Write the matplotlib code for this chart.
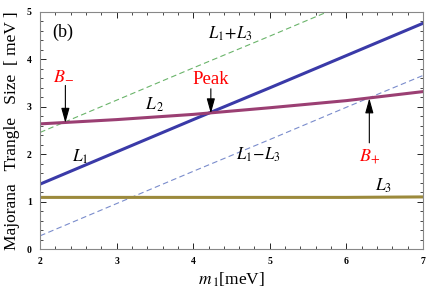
import matplotlib
matplotlib.use("Agg")
import matplotlib.pyplot as plt
import numpy as np
from matplotlib.ticker import MultipleLocator

plt.rcParams['font.family'] = ['Liberation Serif', 'DejaVu Serif']
plt.rcParams['mathtext.fontset'] = 'stix'

# values
m1 = np.array([2, 3, 4, 5, 6, 7])
L1 = np.array([1.37, 2.05, 2.73, 3.40, 4.08, 4.76])
L2 = np.array([2.64, 2.73, 2.84, 2.98, 3.13, 3.32])
L3 = np.array([1.09, 1.09, 1.09, 1.09, 1.09, 1.10])

# special points and where their arrows start
b_minus = (2.33, 2.66)
peak = (4.23, 2.86)
b_plus = (6.30, 3.18)
tails = {'bm': (2.33, 3.45), 'pk': (4.23, 3.38), 'bp': (6.30, 2.24)}

fig = plt.figure(figsize=(4.36, 2.91), dpi=100)
ax = fig.add_axes([0.092, 0.144, 0.878, 0.815])

ax.plot(m1, L1 + L3, color='#6ab46a', lw=0.8, ls=(0, (5, 3)))
ax.plot(m1, L1 - L3, color='#7a8ccc', lw=0.8, ls=(0, (5, 3)))
ax.plot(m1, L3, color='#9c8a3c', lw=2.2)
ax.plot(m1, L1, color='#3a3aa8', lw=2.2)
ax.plot(m1, L2, color='#9b3f73', lw=2.2)

ax.set_xlim(2, 7)
ax.set_ylim(0, 5)
ax.xaxis.set_major_locator(MultipleLocator(1))
ax.xaxis.set_minor_locator(MultipleLocator(0.2))
ax.yaxis.set_major_locator(MultipleLocator(1))
ax.yaxis.set_minor_locator(MultipleLocator(0.2))
ax.tick_params(which='both', direction='in', top=True, right=True, labelsize=7, pad=6)
ax.tick_params(which='major', length=4, width=0.6)
ax.tick_params(which='minor', length=2, width=0.5)
for lab in ax.get_xticklabels() + ax.get_yticklabels():
    lab.set_fontweight('bold')
for s in ax.spines.values():
    s.set_color('#888888')
    s.set_linewidth(0.8)

ax.set_xlabel(r'$m_{\,1}$[meV]', fontsize=12.5, labelpad=3)
ax.set_ylabel('Majorana   Trangle   Size  [ meV ]', fontsize=12.5, labelpad=5)

ax.text(2.29, 4.58, '(b)', fontsize=13, ha='center', va='center')
ax.text(4.49, 4.54, r'$L_1\!+\!L_3$', fontsize=12, ha='center', va='center')
ax.text(3.50, 3.04, r'$L_{\,2}$', fontsize=12.5, ha='center', va='center')
ax.text(2.52, 1.94, r'$L_1$', fontsize=12.5, ha='center', va='center')
ax.text(4.85, 1.98, r'$L_1\!-\!L_3$', fontsize=12, ha='center', va='center')
ax.text(6.49, 1.33, r'$L_3$', fontsize=12.5, ha='center', va='center')

ax.text(2.30, 3.65, r'$B_{-}$', color='red', fontsize=13, ha='center', va='center')
ax.text(4.23, 3.57, 'Peak', color='red', fontsize=13.5, ha='center', va='center')
ax.text(6.30, 1.95, r'$B_{+}$', color='red', fontsize=13, ha='center', va='center')

arrowprops = dict(arrowstyle='-|>,head_length=0.9,head_width=0.25', color='black',
                  lw=0.8, mutation_scale=10, shrinkA=0, shrinkB=0)
ax.annotate('', xy=b_minus, xytext=tails['bm'], arrowprops=arrowprops)
ax.annotate('', xy=peak, xytext=tails['pk'], arrowprops=arrowprops)
ax.annotate('', xy=b_plus, xytext=tails['bp'], arrowprops=arrowprops)

fig.savefig('out.png', dpi=100)
